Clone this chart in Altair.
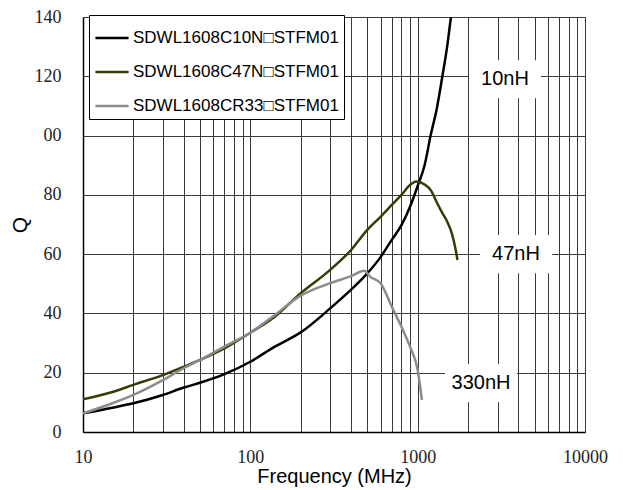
import altair as alt
import pandas as pd

# ---- data ----
names = ["SDWL1608C10N\u25a1STFM01", "SDWL1608C47N\u25a1STFM01", "SDWL1608CR33\u25a1STFM01"]
colors = ["#000000", "#3a3a06", "#8c8c8c"]

f_10n = [10, 15, 20, 30, 40, 50, 70, 100, 140, 200, 300, 400, 500, 600, 700, 800, 900, 1000, 1100, 1200, 1300, 1400, 1500, 1580]
q_10n = [6.3, 8.2, 9.7, 12.5, 15, 16.6, 19.5, 23.7, 28.8, 33.6, 41.7, 48, 53.5, 59, 64.8, 69.8, 76, 83, 90, 100.5, 109, 119.5, 130, 140]

f_47n = [10, 15, 20, 30, 40, 50, 70, 100, 140, 200, 300, 400, 500, 600, 700, 800, 900, 980, 1100, 1200, 1300, 1400, 1500, 1600, 1680, 1730]
q_47n = [11, 13.5, 15.9, 19.2, 22, 24.3, 28.2, 33.5, 38.9, 46.8, 54.7, 61.4, 68.2, 72.6, 76.6, 80, 83.3, 84.5, 83.5, 81.5, 77.5, 74, 71, 67, 62, 58]

f_r33 = [10, 15, 20, 30, 40, 50, 70, 100, 140, 200, 300, 400, 480, 520, 600, 700, 800, 900, 1000, 1060]
q_r33 = [6.3, 9.7, 12.5, 17.5, 21.5, 24.3, 28.8, 33.5, 39.5, 46, 50.2, 52.6, 54.4, 52.4, 50.2, 42.3, 35.5, 28.8, 20.9, 10.8]

ann_text = ["10nH", "47nH", "330nH"]
ann_f = [3327, 3870, 2391]
ann_q = [119, 60, 16.5]

x_grid = [10, 20, 30, 40, 50, 60, 70, 80, 90,
          100, 200, 300, 400, 500, 600, 700, 800, 900,
          1000, 2000, 3000, 4000, 5000, 6000, 7000, 8000, 9000, 10000]
y_ticks = [0, 20, 40, 60, 80, 100, 120, 140]

rows = []
for n, fs, qs in zip(names, [f_10n, f_47n, f_r33], [q_10n, q_47n, q_r33]):
    for i, (f, q) in enumerate(zip(fs, qs)):
        rows.append({"series": n, "f": f, "q": q, "order": i})
df = pd.DataFrame(rows)
ann = pd.DataFrame({"text": ann_text, "f": ann_f, "q": ann_q})

SERIF = "Liberation Serif"
SANS = "Liberation Sans"

xscale = alt.Scale(type="log", domain=[10, 10000])
yscale = alt.Scale(domain=[0, 140])

x_axis = alt.Axis(
    values=x_grid,
    labelExpr="(datum.value==10||datum.value==100||datum.value==1000||datum.value==10000) ? format(datum.value,'d') : ''",
    title="Frequency (MHz)",
    labelFont=SERIF, labelFontSize=18, labelColor="#222",
    labelPadding=16, ticks=False,
    titleFont=SANS, titleFontSize=20, titleFontWeight="normal", titlePadding=0,
    titleColor="#000",
    grid=True, gridColor="#3a3a3a", gridWidth=1,
    domainColor="#000", domainWidth=1.5, labelFlush=False,
)
y_axis = alt.Axis(
    values=y_ticks,
    labelExpr="datum.value==100 ? '00' : datum.label",
    title="Q",
    labelFont=SERIF, labelFontSize=18, labelColor="#222",
    labelPadding=22, ticks=False,
    titleFont=SANS, titleFontSize=21, titleFontWeight="normal", titlePadding=4,
    titleColor="#000",
    grid=True, gridColor="#3a3a3a", gridWidth=1,
    domainColor="#000", domainWidth=1.5,
)

lines = alt.Chart(df).mark_line(strokeWidth=2.5, clip=True, interpolate="monotone").encode(
    x=alt.X("f:Q", scale=xscale, axis=x_axis),
    y=alt.Y("q:Q", scale=yscale, axis=y_axis),
    color=alt.Color("series:N", scale=alt.Scale(domain=names, range=colors),
                    sort=names,
                    legend=alt.Legend(title=None, orient="none", legendX=6, legendY=-2,
                                      fillColor="white", strokeColor="#000", padding=5,
                                      symbolType="stroke", symbolSize=1100, symbolStrokeWidth=2.5,
                                      labelFont=SANS, labelFontSize=17, labelColor="#000",
                                      labelLimit=0, labelOffset=3, rowPadding=8)),
    order="order:Q",
)

boxes = alt.Chart(ann).mark_point(
    shape="M-1,-0.53H1V0.53H-1Z", size=5184, filled=True, fill="white", opacity=1, stroke=None
).encode(
    x=alt.X("f:Q", scale=xscale),
    y=alt.Y("q:Q", scale=yscale),
)

texts = alt.Chart(ann).mark_text(
    font=SANS, fontSize=20, color="#000", align="center", baseline="middle"
).encode(
    x=alt.X("f:Q", scale=xscale),
    y=alt.Y("q:Q", scale=yscale),
    text="text:N",
)

chart = alt.layer(lines, boxes, texts).properties(
    width=502, height=415,
    autosize=alt.AutoSizeParams(type="none"),
    padding={"left": 75, "top": 9, "right": 30, "bottom": 60},
).configure_view(stroke="#aaaaaa", strokeWidth=1)

chart.save("out.html", embed_options={"renderer": "svg", "actions": False})
